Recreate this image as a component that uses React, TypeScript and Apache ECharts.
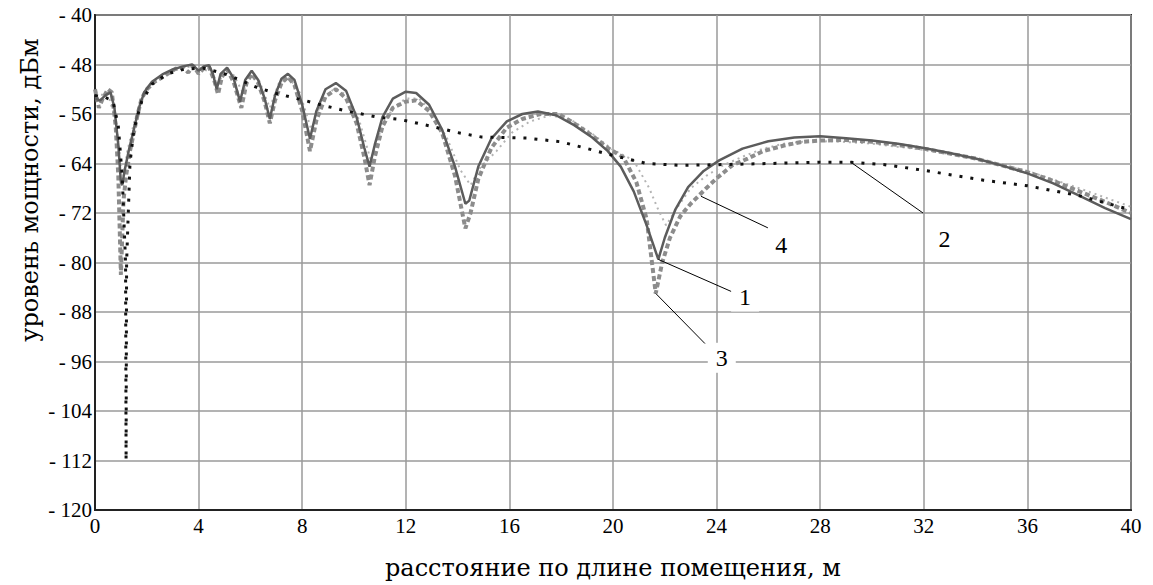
import React, { useEffect, useRef } from "react";
import * as echarts from "echarts";

// Curve 1: calculated (solid)
const curve1: number[][] = [
  [0, -53.5], [0.2, -53.8], [0.4, -53], [0.6, -52.5], [0.75, -55], [0.9, -61], [1.0, -67], [1.05, -67.5],
  [1.15, -65], [1.3, -62], [1.5, -58.5], [1.7, -55], [1.9, -52.5], [2.2, -50.8], [2.6, -49.6], [3.0, -48.8],
  [3.4, -48.3], [3.75, -48], [4.0, -49], [4.2, -48.3], [4.4, -48.1], [4.55, -49.5], [4.7, -52], [4.85, -49.5],
  [5.1, -48.5], [5.35, -50.2], [5.6, -54], [5.8, -50.5], [6.05, -49], [6.3, -50.5], [6.55, -53.5], [6.75, -56.8],
  [6.95, -53], [7.2, -50.3], [7.45, -49.5], [7.7, -50.5], [8.0, -54.5], [8.3, -60], [8.55, -55.5], [8.9, -52],
  [9.3, -51], [9.7, -52.3], [10.1, -56.5], [10.4, -61.5], [10.6, -64.5], [10.8, -61], [11.1, -56.5], [11.5, -53.5],
  [12.0, -52.4], [12.4, -52.6], [12.9, -54.5], [13.4, -58.5], [13.9, -64.5], [14.3, -70.5], [14.45, -70],
  [14.8, -64.5], [15.3, -60], [15.9, -57.2], [16.5, -56], [17.1, -55.6], [17.8, -56.2], [18.5, -57.8],
  [19.2, -59.8], [19.8, -62], [20.3, -64.5], [20.8, -68.5], [21.3, -74], [21.75, -79.5], [22.0, -76],
  [22.4, -71.5], [22.9, -67.8], [23.5, -65.2], [24.1, -63.5], [25.0, -61.6], [26.0, -60.4], [27.0, -59.8],
  [28.0, -59.6], [29.0, -59.9], [30.0, -60.3], [31.0, -60.8], [32.0, -61.5], [33.0, -62.3], [34.0, -63.2],
  [35.0, -64.3], [36.0, -65.6], [37.0, -67.2], [38.0, -69.2], [39.0, -71.2], [40.0, -73],
];

// Curve 2: averaged level (black dotted)
const curve2: number[][] = [
  [0, -53], [0.4, -53.3], [0.7, -54], [0.9, -58], [1.05, -66], [1.18, -80], [1.2, -112], [1.22, -80],
  [1.35, -64], [1.5, -58.5], [1.8, -54], [2.2, -51.2], [2.8, -49.5], [3.5, -48.7], [4.2, -48.6], [5.0, -49.5],
  [5.6, -50.5], [6.25, -51.7], [7.1, -52.8], [8.0, -53.7], [8.6, -54.4], [9.7, -55.5], [10.9, -56.5],
  [11.8, -56.9], [12.9, -57.9], [14.0, -59], [14.9, -59.7], [16.7, -59.9], [18.0, -60.5], [19.2, -61.8],
  [20.0, -62.7], [21.3, -64], [22.6, -64.3], [24, -64.2], [26, -64], [28, -63.8], [29.2, -63.8], [30.5, -64.2],
  [32, -65.1], [34.3, -66.7], [36, -67.6], [38, -69.2], [40, -71.5],
];

// Curve 3: measured (gray dashes)
const curve3: number[][] = [
  [0, -52], [0.15, -55], [0.3, -53.5], [0.5, -52], [0.65, -52.5], [0.8, -58], [0.9, -66], [0.95, -74],
  [1.0, -82], [1.05, -76], [1.1, -70], [1.2, -66], [1.35, -62], [1.5, -59], [1.65, -56], [1.8, -53.5],
  [2.0, -52], [2.3, -50.8], [2.7, -49.8], [3.1, -48.7], [3.4, -48.5], [3.6, -49.3], [3.8, -48.2], [4.0, -49.5],
  [4.2, -48.6], [4.4, -48.4], [4.6, -50.5], [4.75, -52.8], [4.9, -50], [5.1, -48.8], [5.35, -50.8],
  [5.65, -55], [5.85, -51], [6.05, -49.5], [6.3, -51], [6.55, -54], [6.75, -57.5], [6.95, -53.8], [7.2, -51],
  [7.45, -50], [7.7, -51.3], [8.0, -55.5], [8.3, -62], [8.55, -57], [8.9, -53.2], [9.3, -52], [9.7, -53.5],
  [10.1, -57.5], [10.4, -63], [10.6, -67.5], [10.8, -63], [11.1, -58], [11.5, -55], [12.0, -54], [12.4, -53.8],
  [12.9, -55.5], [13.4, -59], [13.9, -66], [14.3, -74.5], [14.5, -72], [14.8, -66.5], [15.3, -61.5],
  [15.9, -58.2], [16.5, -56.8], [17.2, -56], [17.9, -56], [18.5, -57.5], [19.2, -59.5], [19.8, -61.5],
  [20.4, -63], [20.9, -67], [21.3, -73], [21.65, -85], [21.9, -80], [22.2, -76], [22.6, -72.5], [23.0, -70.5],
  [23.6, -68], [24.0, -66.4], [24.6, -64.3], [25.2, -63.2], [25.8, -62], [26.6, -61.1], [27.3, -60.5],
  [28.0, -60.3], [29.0, -60.2], [30.0, -60.5], [31.0, -61], [32.0, -61.6], [33.0, -62.4], [34.0, -63.2],
  [35.0, -64.3], [36.0, -65.4], [37.0, -66.8], [38.0, -68.5], [39.0, -70.2], [40.0, -72],
];

// Curve 4: second model (light gray dots)
const curve4: number[][] = [
  [0, -53], [0.5, -52.8], [0.8, -57], [1.0, -64], [1.1, -66], [1.25, -62], [1.5, -57.5], [1.8, -53.5],
  [2.2, -51], [2.7, -49.6], [3.2, -48.8], [3.7, -48.3], [4.1, -48.6], [4.5, -49.3], [4.75, -51], [5.0, -49.2],
  [5.3, -49.3], [5.7, -52.5], [6.0, -50], [6.3, -50.2], [6.75, -55], [7.1, -51], [7.5, -50.2], [7.9, -52.5],
  [8.35, -58.5], [8.7, -54.5], [9.2, -52], [9.7, -52.8], [10.2, -57], [10.65, -63.5], [11.0, -59], [11.5, -55],
  [12.0, -53.5], [12.5, -53.5], [13.0, -55.5], [13.6, -60], [14.1, -65], [14.5, -67.5], [14.9, -64.5],
  [15.5, -62], [16.1, -59], [16.8, -57.2], [17.6, -56.2], [18.4, -57], [19.2, -59.2], [20.0, -61.8],
  [20.8, -63.5], [21.4, -68], [21.75, -71.5], [22.05, -74], [22.5, -71], [23.0, -68], [23.6, -66],
  [24.25, -64.3], [25.0, -62.9], [25.8, -61.6], [26.6, -60.8], [27.3, -60.5], [28.5, -60.4], [30, -60.8],
  [32, -61.8], [34, -63.2], [36, -65.2], [38, -68], [40, -71],
];

// Leader lines (from curve point to label) and labels
const leaderLines: { name: string; from: number[]; to: number[]; label: number[] }[] = [
  { name: "1", from: [21.75, -79.5], to: [24.63, -84.8], label: [25.1, -85.5] },
  { name: "2", from: [29.15, -63.7], to: [31.97, -72], label: [32.8, -76.2] },
  { name: "3", from: [21.65, -85], to: [23.55, -93.1], label: [24.2, -95.4] },
  { name: "4", from: [23.4, -69.3], to: [25.98, -74.4], label: [26.5, -77.2] },
];

const xMin = 0, xMax = 40, xStep = 4;
const yMin = -120, yMax = -40, yStep = 8;

const serif = "Liberation Serif";
const titleFont = "DejaVu Serif";

export default function App() {
  const ref = useRef<HTMLDivElement>(null);
  useEffect(() => {
    document.body.style.margin = "0";
    const chart = echarts.init(ref.current!, null, { renderer: "svg" });
    chart.setOption({
      animation: false,
      backgroundColor: "#fff",
      grid: {
        left: 95, right: 22, top: 15, bottom: 69,
        show: true, borderColor: "#222", borderWidth: 2, backgroundColor: "transparent",
      },
      xAxis: {
        type: "value", min: xMin, max: xMax, interval: xStep,
        name: "расстояние по длине помещения, м",
        nameLocation: "middle", nameGap: 46,
        nameTextStyle: { fontFamily: titleFont, fontSize: 24, color: "#000" },
        axisLine: { show: true, lineStyle: { color: "#222", width: 2 } },
        axisTick: { show: false },
        axisLabel: { fontFamily: serif, fontSize: 21, color: "#000", margin: 5 },
        splitLine: { show: true, lineStyle: { color: "#9a9a9a", width: 1.5 } },
      },
      yAxis: {
        type: "value", min: yMin, max: yMax, interval: yStep,
        axisLine: { show: true, lineStyle: { color: "#222", width: 2 } },
        axisTick: { show: false },
        axisLabel: {
          fontFamily: serif, fontSize: 21, color: "#000", margin: 3,
          formatter: (v: number) => (v < 0 ? "- " + Math.abs(v) : String(v)),
        },
        splitLine: { show: true, lineStyle: { color: "#9a9a9a", width: 1.5 } },
      },
      graphic: [
        {
          type: "text", x: 30, y: 190, rotation: Math.PI / 2,
          style: {
            text: "уровень мощности, дБм", fontFamily: titleFont, fontSize: 24,
            fill: "#000", align: "center", verticalAlign: "middle",
          },
        },
      ],
      series: [
        {
          type: "line", name: "4", data: curve4, symbol: "none", z: 2,
          lineStyle: { color: "#b4b4b4", width: 2, type: [2, 4] },
        },
        {
          type: "line", name: "3", data: curve3, symbol: "none", z: 3,
          lineStyle: { color: "#8c8c8c", width: 4, type: [5, 3] },
        },
        {
          type: "line", name: "1", data: curve1, symbol: "none", z: 4,
          lineStyle: { color: "#5c5c5c", width: 2.5 },
        },
        {
          type: "line", name: "2", data: curve2, symbol: "none", z: 5,
          lineStyle: { color: "#111", width: 3, type: [3, 8] },
          markLine: {
            silent: true, symbol: ["none", "none"],
            label: { show: false },
            lineStyle: { color: "#000", width: 1, type: "solid" },
            data: leaderLines.map((l) => [{ coord: l.from }, { coord: l.to }]),
          },
          markPoint: {
            silent: true, symbol: "rect", symbolSize: 1,
            itemStyle: { color: "transparent" },
            label: {
              show: true, position: "inside", formatter: "{b}",
              fontFamily: serif, fontSize: 24, color: "#000",
              backgroundColor: "#fff", padding: [2, 8, 4, 8],
            },
            data: leaderLines.map((l) => ({ name: l.name, coord: l.label })),
          },
        },
      ],
    });
    return () => chart.dispose();
  }, []);
  return <div ref={ref} style={{ width: 1153, height: 585 }} />;
}
